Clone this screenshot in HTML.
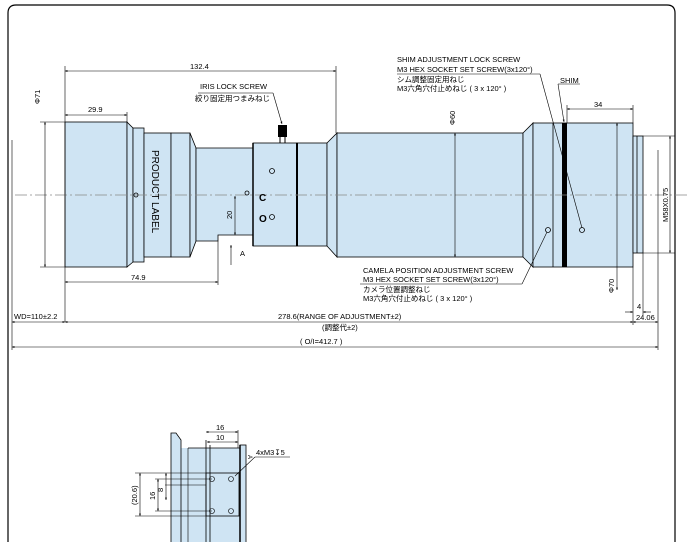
<!DOCTYPE html>
<html><head><style>
html,body{margin:0;padding:0;background:#fff;}
svg{display:block;}
text{font-family:"Liberation Sans","Noto Sans CJK JP",sans-serif;fill:#000;}
</style></head><body>
<svg width="697" height="542" viewBox="0 0 697 542" xmlns="http://www.w3.org/2000/svg">
<defs>
<marker id="a" viewBox="0 0 10 10" refX="10" refY="5" markerWidth="5" markerHeight="4" orient="auto-start-reverse"><path d="M0,1 L10,5 L0,9z" fill="#000"/></marker>
</defs>
<path d="M8,560 L8,13 Q8,5 16,5 L667,5 Q675,5 675,13 L675,560" fill="none" stroke="#000" stroke-width="1.2"/>
<g fill="#cfe4f3" stroke="#000" stroke-width="0.8">
<rect x="65" y="122" width="62" height="145"/>
<path d="M127,122 L133,128 L133,262 L127,267z"/>
<rect x="133" y="128" width="11" height="134"/>
<rect x="144" y="133" width="27" height="124"/>
<rect x="171" y="133" width="19" height="124"/>
<path d="M190,133 L196,148 L196,241 L190,257z"/>
<path d="M196,148 L253,148 L253,235 L218,235 L218,241 L196,241z"/>
<rect x="253" y="143" width="44" height="103"/>
<rect x="297" y="143" width="30" height="103"/>
<path d="M327,143 L337,133 L337,257 L327,246z"/>
<rect x="337" y="133" width="186" height="124"/>
<path d="M523,133 L533,123 L533,267 L523,257z"/>
<rect x="533" y="123" width="100" height="144"/>
<rect x="633" y="136" width="10" height="117"/>
</g>
<line x1="553" y1="123" x2="553" y2="267" stroke="#000" stroke-width="0.8"/>
<rect x="562" y="123" width="5" height="144" fill="#000"/>
<line x1="637" y1="136" x2="637" y2="253" stroke="#000" stroke-width="0.8"/>
<line x1="297" y1="143" x2="297" y2="246" stroke="#000" stroke-width="2"/>
<line x1="253" y1="143" x2="253" y2="246" stroke="#000" stroke-width="1.5"/>
<rect x="278" y="125" width="9" height="12" fill="#000"/>
<line x1="280" y1="137" x2="280" y2="143" stroke="#000"/><line x1="285" y1="137" x2="285" y2="143" stroke="#000"/>
<line x1="15" y1="195" x2="690" y2="195" stroke="#888" stroke-width="0.8" stroke-dasharray="12,3,2,3"/>
<g fill="none" stroke="#000" stroke-width="0.8">
<circle cx="136" cy="195" r="2"/><circle cx="247" cy="193" r="2"/>
<circle cx="272" cy="171" r="2.5"/><circle cx="272" cy="217" r="2.5"/>
<circle cx="548" cy="230" r="2.5"/><circle cx="582" cy="230" r="2.5"/>
</g>
<text x="259" y="201" font-size="10" font-weight="bold">C</text>
<text x="259" y="222" font-size="10" font-weight="bold">O</text>
<text transform="translate(152,150) rotate(90)" font-size="10">PRODUCT LABEL</text>
<g stroke="#000" stroke-width="0.6" fill="none">
<line x1="65" y1="66" x2="65" y2="322"/><line x1="336" y1="66" x2="336" y2="133"/>
<line x1="65" y1="71" x2="336" y2="71" marker-start="url(#a)" marker-end="url(#a)"/>
<line x1="65" y1="115" x2="127" y2="115" marker-start="url(#a)" marker-end="url(#a)"/>
<line x1="127" y1="112" x2="127" y2="122"/>
<line x1="40" y1="122" x2="65" y2="122"/><line x1="40" y1="267" x2="65" y2="267"/>
<line x1="45" y1="122" x2="45" y2="267" marker-start="url(#a)" marker-end="url(#a)"/>
<line x1="65" y1="282" x2="218" y2="282" marker-start="url(#a)" marker-end="url(#a)"/>
<line x1="218" y1="241" x2="218" y2="285"/>
<line x1="235" y1="196" x2="235" y2="235" marker-start="url(#a)" marker-end="url(#a)"/>
<line x1="231" y1="265" x2="231" y2="245" marker-end="url(#a)"/>
<line x1="12" y1="140" x2="12" y2="350"/>
<line x1="12" y1="322" x2="65" y2="322" marker-start="url(#a)" marker-end="url(#a)"/>
<line x1="65" y1="322" x2="633" y2="322" marker-start="url(#a)" marker-end="url(#a)"/>
<line x1="633" y1="322" x2="658" y2="322" marker-start="url(#a)" marker-end="url(#a)"/>
<line x1="12" y1="347" x2="658" y2="347" marker-start="url(#a)" marker-end="url(#a)"/>
<line x1="658" y1="150" x2="658" y2="350"/>
<line x1="633" y1="267" x2="633" y2="325"/><line x1="643" y1="253" x2="643" y2="315"/>
<line x1="625" y1="312" x2="633" y2="312" marker-end="url(#a)"/><line x1="651" y1="312" x2="643" y2="312" marker-end="url(#a)"/>
<line x1="567" y1="105" x2="567" y2="123"/><line x1="633" y1="105" x2="633" y2="123"/>
<line x1="567" y1="109" x2="633" y2="109" marker-start="url(#a)" marker-end="url(#a)"/>
<line x1="455" y1="133" x2="455" y2="257" marker-start="url(#a)" marker-end="url(#a)"/>
<line x1="617" y1="123" x2="617" y2="290" marker-start="url(#a)" marker-end="url(#a)"/>
<line x1="643" y1="136" x2="675" y2="136"/><line x1="643" y1="253" x2="675" y2="253"/>
<line x1="670" y1="136" x2="670" y2="253" marker-start="url(#a)" marker-end="url(#a)"/>
<line x1="198" y1="93" x2="273" y2="93"/><line x1="273" y1="93" x2="282" y2="124" marker-end="url(#a)"/>
<line x1="397" y1="74" x2="540" y2="74"/><line x1="540" y1="74" x2="582" y2="228"/>
<line x1="558" y1="84" x2="580" y2="84"/><line x1="558" y1="84" x2="564" y2="122" marker-end="url(#a)"/>
<line x1="360" y1="284" x2="522" y2="284"/><line x1="522" y1="284" x2="547" y2="232"/>
</g>
<g font-size="7.5">
<text x="190" y="69">132.4</text>
<text x="88" y="112">29.9</text>
<text transform="translate(40,104) rotate(-90)">Φ71</text>
<text x="131" y="280">74.9</text>
<text transform="translate(232,219) rotate(-90)">20</text>
<text x="240" y="256">A</text>
<text x="200" y="89">IRIS  LOCK SCREW</text>
<text x="195" y="101">絞り固定用つまみねじ</text>
<text x="397" y="62">SHIM ADJUSTMENT LOCK SCREW</text>
<text x="397" y="72">M3 HEX SOCKET SET SCREW(3x120°)</text>
<text x="397" y="82">シム調整固定用ねじ</text>
<text x="397" y="91">M3六角穴付止めねじ ( 3 x 120° )</text>
<text x="560" y="83">SHIM</text>
<text x="594" y="107">34</text>
<text transform="translate(455,125) rotate(-90)">Φ60</text>
<text transform="translate(614,293) rotate(-90)">Φ70</text>
<text transform="translate(668,222) rotate(-90)">M58X0.75</text>
<text x="363" y="273">CAMELA POSITION ADJUSTMENT SCREW</text>
<text x="363" y="282">M3 HEX SOCKET SET SCREW(3x120°)</text>
<text x="363" y="292">カメラ位置調整ねじ</text>
<text x="363" y="301">M3六角穴付止めねじ ( 3 x 120° )</text>
<text x="637" y="309">4</text>
<text x="636" y="320">24.06</text>
<text x="14" y="319">WD=110±2.2</text>
<text x="278" y="319">278.6(RANGE OF ADJUSTMENT±2)</text>
<text x="322" y="330">(調整代±2)</text>
<text x="300" y="344">( O/I=412.7 )</text>
</g>
<!-- bottom detail -->
<g stroke="#000" stroke-width="0.8">
<rect x="181" y="448" width="60" height="100" fill="#cfe4f3" stroke="none"/>
<path d="M171,433 L176,433 L181,440 L181,548 L171,548z" fill="#cfe4f3"/>
<line x1="188" y1="448" x2="240" y2="448"/>
<rect x="240" y="445" width="6" height="103" fill="#cfe4f3"/>
<line x1="240" y1="445" x2="240" y2="548" stroke-width="1.5"/>
<line x1="188" y1="448" x2="188" y2="548" stroke-width="0.6"/>
<rect x="206" y="473" width="33" height="43" fill="none"/>
<line x1="206" y1="440" x2="206" y2="548"/><line x1="210" y1="445" x2="210" y2="548"/>
</g>
<g fill="none" stroke="#000" stroke-width="0.6">
<circle cx="212" cy="479" r="2.5"/><circle cx="231" cy="479" r="2.5"/>
<circle cx="212" cy="511" r="2.5"/><circle cx="231" cy="511" r="2.5"/>
<line x1="206" y1="432" x2="238" y2="432" marker-start="url(#a)" marker-end="url(#a)"/>
<line x1="207" y1="442" x2="238" y2="442" marker-start="url(#a)" marker-end="url(#a)"/>
<line x1="238" y1="430" x2="238" y2="448"/>
<line x1="135" y1="473" x2="206" y2="473"/><line x1="135" y1="516" x2="206" y2="516"/>
<line x1="155" y1="479" x2="212" y2="479"/><line x1="155" y1="511" x2="212" y2="511"/>
<line x1="165" y1="485" x2="206" y2="485"/>
<line x1="140" y1="473" x2="140" y2="516" marker-start="url(#a)" marker-end="url(#a)"/>
<line x1="158" y1="479" x2="158" y2="511" marker-start="url(#a)" marker-end="url(#a)"/>
<line x1="166" y1="473" x2="166" y2="500" marker-start="url(#a)" marker-end="url(#a)"/>
<line x1="255" y1="457" x2="290" y2="457"/><line x1="255" y1="457" x2="235" y2="476"/>
</g>
<g font-size="7.5">
<text x="216" y="430">16</text><text x="216" y="440">10</text>
<text x="256" y="455">4xM3↧5</text>
<text transform="translate(137,505) rotate(-90)">(20.6)</text>
<text transform="translate(155,500) rotate(-90)">16</text>
<text transform="translate(163,492) rotate(-90)">8</text>
<text transform="translate(248,455) rotate(90)" font-size="6">A</text>
</g>
</svg>
</body></html>
